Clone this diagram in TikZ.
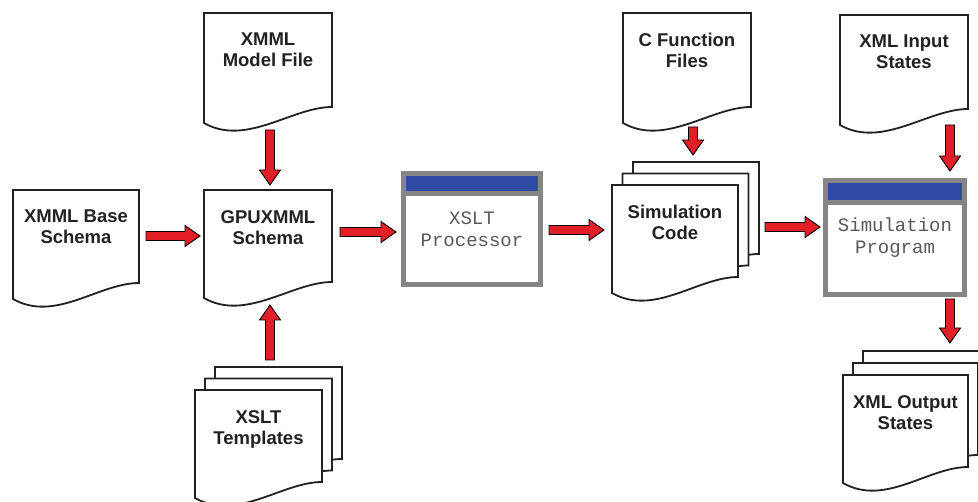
\documentclass[tikz,border=0pt]{standalone}
\usepackage{fontspec}
\setmainfont{Liberation Sans}
\setmonofont{Liberation Mono}
\usetikzlibrary{calc}
\definecolor{arrred}{HTML}{E21E26}
\definecolor{wingray}{HTML}{858585}
\definecolor{winblue}{HTML}{2F4BA5}
\definecolor{docline}{HTML}{222222}
\definecolor{monogray}{HTML}{5A5A5A}
\tikzset{
  docbox/.style={draw=none, fill=none, anchor=north west, inner sep=0pt, outer sep=0pt},
  doclabel/.style={font=\fontsize{18.5}{21}\selectfont\bfseries, text=docline, align=center, inner sep=0pt, anchor=north},
  docoutline/.style={draw=docline, line width=1.8pt, fill=white, line join=miter},
  winbox/.style={draw=wingray, line width=5pt, fill=white, anchor=north west, inner sep=0pt, outer sep=0pt,
    font=\fontsize{19}{22}\selectfont\ttfamily, text=monogray, align=center},
  fatarrow/.style={fill=arrred, draw=black, line width=0.9pt, line join=miter},
}
% document node: name, x, y, width, height
\newcommand\docnode[5]{%
  \node[docbox, minimum width=#4pt, minimum height=#5pt] (#1) at (#2,#3) {};
  \path[docoutline] (#1.north west) -- (#1.north east) -- ([yshift=16pt]#1.south east)
    .. controls ([xshift=-40pt,yshift=16pt]#1.south east) and ([xshift=42pt,yshift=-24pt]#1.south west)
    .. (#1.south west) -- cycle;}
\newcommand\doctext[2]{\node[doclabel] (#1-t) at ($(#1.north)+(0,20)$) {#2};}
% window bar: name, bar height
\newcommand\winbar[2]{%
  \fill[winblue] ([shift={(2.5pt,-2.5pt)}]#1.north west) rectangle ([shift={(-2.5pt,-2.5pt-#2)}]#1.north east);
  \fill[wingray] ([shift={(2.5pt,-2.5pt-#2)}]#1.north west) rectangle ([shift={(-2.5pt,-7.5pt-#2)}]#1.north east);}
% fat arrow from point to point
\newcommand\bigarrow[2]{%
  \path[fatarrow] let \p1=(#1), \p2=(#2),
     \n1={atan2(\y2-\y1,\x2-\x1)}, \n2={veclen(\x2-\x1,\y2-\y1)} in
     [shift={(\p1)}, rotate=\n1]
     (0pt,4.5pt) -- (\n2-15pt,4.5pt) -- (\n2-15pt,10.5pt) -- (\n2,0pt)
     -- (\n2-15pt,-10.5pt) -- (\n2-15pt,-4.5pt) -- (0pt,-4.5pt) -- cycle;}
\begin{document}
\begin{tikzpicture}[x=1pt,y=-1pt]
\useasboundingbox[fill=white] (0,0) rectangle (978,502);

% single documents
\docnode{base}{13}{190}{126}{109}
\doctext{base}{XMML Base\\Schema}
\docnode{model}{204}{13}{128}{110}
\doctext{model}{XMML\\Model File}
\docnode{gpu}{204}{190}{128}{108}
\doctext{gpu}{GPUXMML\\Schema}
\docnode{cfunc}{623}{13}{128}{110}
\doctext{cfunc}{C Function\\Files}
\docnode{input}{840}{15}{128}{110}
\doctext{input}{XML Input\\States}

% stacks
\docnode{tmpl3}{215}{367}{127}{108}
\docnode{tmpl2}{205}{378.5}{127}{108}
\docnode{tmpl}{195}{390}{127}{108}
\doctext{tmpl}{XSLT\\Templates}

\docnode{sc3}{633}{162}{126}{108}
\docnode{sc2}{622.5}{173.5}{126}{108}
\docnode{sc}{612}{185}{126}{108}
\doctext{sc}{Simulation\\Code}

\docnode{out3}{863}{351}{125}{108}
\docnode{out2}{853}{363}{125}{108}
\docnode{out}{843}{375}{125}{108}
\doctext{out}{XML Output\\States}

% windows
\node[winbox, minimum width=137pt, minimum height=111pt] (xslt) at (403.5,173.5) {XSLT\\Processor};
\winbar{xslt}{15pt}
\node[winbox, minimum width=139pt, minimum height=114pt] (prog) at (825.5,180.5) {Simulation\\Program};
\winbar{prog}{17pt}

% arrows
\bigarrow{$(model.south)+(2,7)$}{$(gpu.north)+(2,-5)$}
\bigarrow{$(base.east)+(7,-8.5)$}{$(gpu.west)+(-4,-8)$}
\bigarrow{$(tmpl3.north)+(-8.5,-7)$}{$(gpu.south)+(2,7)$}
\bigarrow{$(gpu.east)+(8,-12)$}{$(xslt.west)+(-7.5,3)$}
\bigarrow{$(xslt.east)+(8.5,1)$}{$(sc.west)+(-8,-9)$}
\bigarrow{$(cfunc.south)+(6,4)$}{$(sc3.north)+(-3,-7)$}
\bigarrow{$(sc3.east)+(6,11)$}{$(prog.west)+(-5.5,-10.5)$}
\bigarrow{$(input.south east)+(-18,0)$}{$(prog.north east)+(-14.5,-9.5)$}
\bigarrow{$(prog.south east)+(-14.5,4.5)$}{$(out3.north west)+(87,-8)$}
\end{tikzpicture}
\end{document}
